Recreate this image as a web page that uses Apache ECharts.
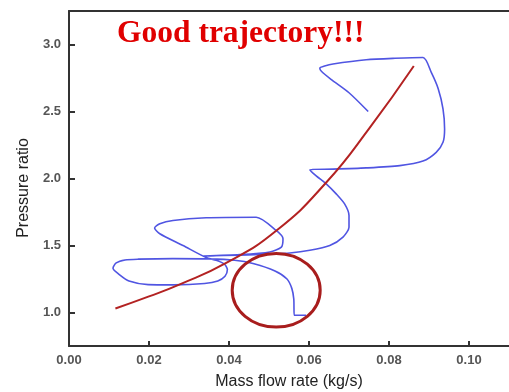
<!DOCTYPE html>
<html>
<head>
<meta charset="utf-8">
<script src="https://cdn.jsdelivr.net/npm/echarts@6/dist/echarts.min.js"></script>
<style>
  html, body { margin: 0; padding: 0; background: #fff; }
  #chart { width: 509px; height: 392px; }
</style>
</head>
<body>
<div id="chart"></div>
<script>
// Tick positions and their labels
const xTicks = [0.00, 0.02, 0.04, 0.06, 0.08, 0.10];
const yTicks = [1.0, 1.5, 2.0, 2.5, 3.0];

// Measured compressor trajectory (mass flow kg/s, pressure ratio), in time order
const trajectory = [
  [0.0748, 2.500], [0.0700, 2.640], [0.0655, 2.740], [0.0631, 2.800], [0.0627, 2.825],
  [0.0639, 2.840], [0.0660, 2.855], [0.0743, 2.886], [0.0815, 2.897], [0.0885, 2.903],
  [0.0906, 2.790], [0.0923, 2.670], [0.0935, 2.520], [0.0939, 2.370], [0.0935, 2.270],
  [0.0918, 2.195], [0.0885, 2.130], [0.0827, 2.096], [0.0743, 2.079], [0.0660, 2.070],
  [0.0602, 2.066], [0.0618, 2.020], [0.0643, 1.960], [0.0668, 1.885], [0.0689, 1.810],
  [0.0700, 1.724], [0.0700, 1.637], [0.0685, 1.563], [0.0652, 1.500], [0.0602, 1.464],
  [0.0552, 1.444], [0.0502, 1.437], [0.0427, 1.428], [0.0337, 1.422], [0.0427, 1.432],
  [0.0502, 1.452], [0.0531, 1.488], [0.0535, 1.550], [0.0518, 1.612], [0.0468, 1.711],
  [0.0343, 1.707], [0.0260, 1.687], [0.0227, 1.662], [0.0214, 1.630], [0.0227, 1.588],
  [0.0285, 1.500], [0.0343, 1.410], [0.0368, 1.390], [0.0389, 1.360], [0.0396, 1.320],
  [0.0390, 1.270], [0.0372, 1.235], [0.0339, 1.216], [0.0260, 1.206], [0.0198, 1.208],
  [0.0150, 1.235], [0.0125, 1.285], [0.0110, 1.330], [0.0118, 1.370], [0.0140, 1.392],
  [0.0173, 1.398], [0.0260, 1.402], [0.0350, 1.400], [0.0414, 1.390], [0.0460, 1.366],
  [0.0515, 1.310], [0.0545, 1.250], [0.0557, 1.180], [0.0562, 1.100], [0.0563, 0.980],
  [0.0593, 0.980]
];

// Ideal operating line
const operatingLine = [
  [0.0116, 1.03], [0.0200, 1.12], [0.0277, 1.21], [0.0393, 1.37],
  [0.0518, 1.61], [0.0643, 1.97], [0.0752, 2.38], [0.0862, 2.84]
];

// Highlighted region: centre (x, y) and half-widths (x, y) in axis units
const highlight = [[0.0518, 1.166, 0.011, 0.275]];

const axisColor = '#333';
const labelColor = '#555';

const chart = echarts.init(document.getElementById('chart'), null, { renderer: 'canvas' });

chart.setOption({
  animation: false,
  title: {
    text: 'Good trajectory!!!',
    left: 117,
    top: 18,
    padding: 0,
    textStyle: {
      fontFamily: 'Liberation Serif',
      fontWeight: 'bold',
      fontSize: 31.5,
      color: '#e00000'
    }
  },
  grid: { left: 69, right: 0, top: 11, bottom: 46, containLabel: false,
          outerBoundsMode: 'none' },
  xAxis: [{
    type: 'value',
    min: 0,
    max: 0.11,
    name: 'Mass flow rate (kg/s)',
    nameLocation: 'middle',
    nameGap: 28,
    nameTextStyle: { fontFamily: 'Liberation Sans', fontSize: 16, color: '#222' },
    axisLine: { show: true, onZero: false, lineStyle: { color: axisColor, width: 2 } },
    axisTick: { show: true, inside: true, length: 5, customValues: xTicks,
                lineStyle: { color: axisColor, width: 2 } },
    axisLabel: { customValues: xTicks, margin: 8, fontSize: 13, color: labelColor,
                 fontFamily: 'Liberation Sans', fontWeight: 'bold',
                 formatter: v => v.toFixed(2) },
    splitLine: { show: false }
  }, {
    type: 'value',
    position: 'top',
    min: 0,
    max: 0.11,
    axisLine: { show: true, lineStyle: { color: axisColor, width: 2 } },
    axisTick: { show: false },
    axisLabel: { show: false },
    splitLine: { show: false }
  }],
  yAxis: {
    type: 'value',
    min: 0.75,
    max: 3.25,
    name: 'Pressure ratio',
    nameLocation: 'middle',
    nameGap: 35,
    nameTextStyle: { fontFamily: 'Liberation Sans', fontSize: 16, color: '#222',
                     padding: [0, 19, 0, 0] },
    axisLine: { show: true, onZero: false, lineStyle: { color: axisColor, width: 2 } },
    axisTick: { show: true, inside: true, length: 6, customValues: yTicks,
                lineStyle: { color: axisColor, width: 2 } },
    axisLabel: { customValues: yTicks, margin: 8, fontSize: 13, color: labelColor,
                 fontFamily: 'Liberation Sans', fontWeight: 'bold',
                 formatter: v => v.toFixed(1) },
    splitLine: { show: false }
  },
  series: [{
    name: 'Trajectory',
    type: 'line',
    data: trajectory,
    showSymbol: false,
    smooth: 0.25,
    lineStyle: { color: '#5055e2', width: 1.6 },
    z: 2
  }, {
    name: 'Operating line',
    type: 'line',
    data: operatingLine,
    showSymbol: false,
    smooth: true,
    lineStyle: { color: '#b32222', width: 2 },
    z: 3
  }, {
    name: 'Highlight',
    type: 'custom',
    data: highlight,
    clip: false,
    z: 4,
    renderItem(params, api) {
      const c = api.coord([api.value(0), api.value(1)]);
      const s = api.size([api.value(2), api.value(3)]);
      const rx = s[0], ry = s[1];
      const d = `M${c[0] - rx} ${c[1]} A${rx} ${ry} 0 1 0 ${c[0] + rx} ${c[1]} ` +
                `A${rx} ${ry} 0 1 0 ${c[0] - rx} ${c[1]} Z`;
      return {
        type: 'path',
        shape: { pathData: d },
        style: { fill: 'none', stroke: '#a81d1d', lineWidth: 3 }
      };
    }
  }]
});
</script>
</body>
</html>
